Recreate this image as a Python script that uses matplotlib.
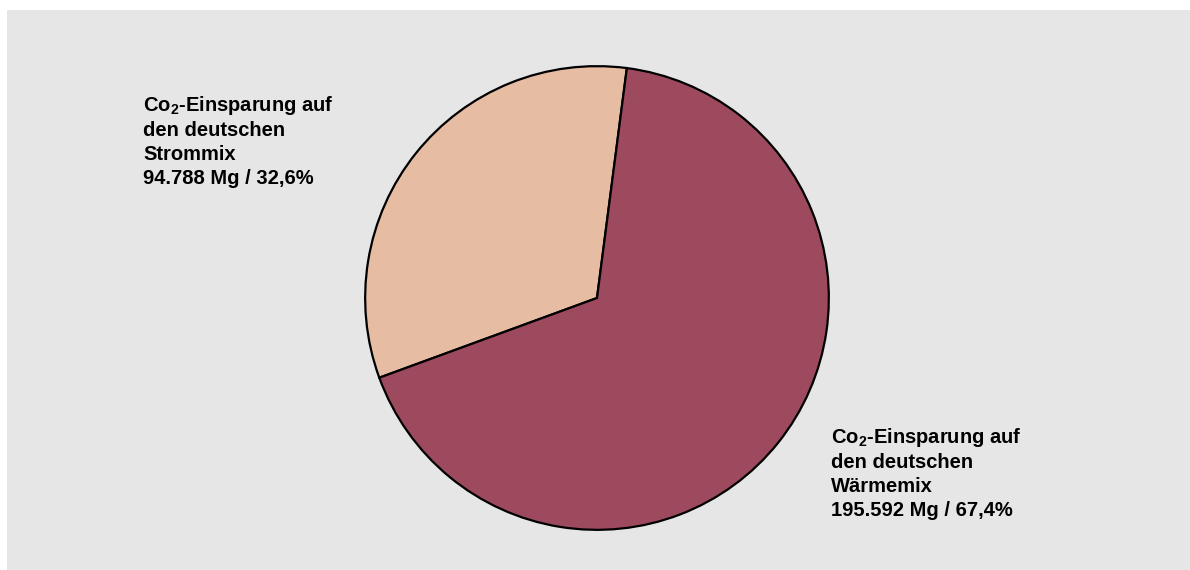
import matplotlib
matplotlib.use("Agg")
import matplotlib.pyplot as plt
from matplotlib.patches import Rectangle

strom_lines = ["Co$_2$-Einsparung auf", "den deutschen", "Strommix", "94.788 Mg / 32,6%"]
waerme_lines = ["Co$_2$-Einsparung auf", "den deutschen", "Wärmemix", "195.592 Mg / 67,4%"]
values = [94788, 195592]
colors = ["#e6bca3", "#9e4a5e"]

plt.rcParams["font.family"] = ["Liberation Sans", "DejaVu Sans"]
plt.rcParams["mathtext.fontset"] = "custom"
plt.rcParams["mathtext.rm"] = "Liberation Sans:bold"
plt.rcParams["mathtext.it"] = "Liberation Sans:bold"
plt.rcParams["mathtext.bf"] = "Liberation Sans:bold"

W, H = 1190, 570
fig = plt.figure(figsize=(W / 100, H / 100), dpi=100)
fig.patch.set_facecolor("white")
fig.patches.append(Rectangle((7 / W, 0), 1, 1 - 10 / H, transform=fig.transFigure,
                             facecolor="#e6e6e6", edgecolor="none", zorder=-5))

# pie centred at (597, 298) px, radius 233 px
cx, cy, r = 597, H - 298, 233
ax = fig.add_axes([(cx - r) / W, (cy - r) / H, 2 * r / W, 2 * r / H], zorder=2)
ax.pie(values, colors=colors, startangle=82.6, counterclock=True, radius=1,
       wedgeprops=dict(edgecolor="black", linewidth=1.6))
ax.set_xlim(-1.005, 1.005)
ax.set_ylim(-1.005, 1.005)
ax.axis("off")


def label_block(lines, x, y0, step=24.5):
    for i, line in enumerate(lines):
        fig.text(x / W, 1 - (y0 + i * step) / H, line, ha="left", va="baseline",
                 fontsize=14.5, fontweight="bold", zorder=3)


label_block(strom_lines, 143, 111)
label_block(waerme_lines, 831, 443)

fig.savefig("out.png", dpi=100)
